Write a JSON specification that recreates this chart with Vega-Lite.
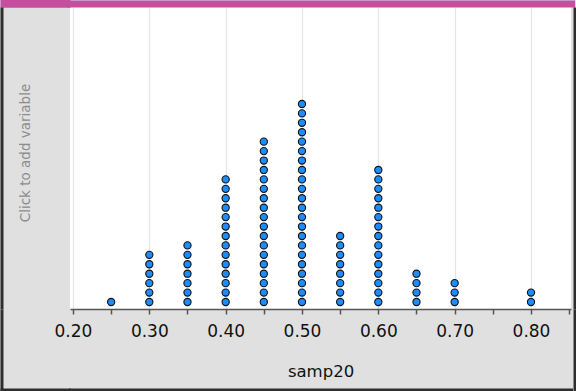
{
  "$schema": "https://vega.github.io/schema/vega-lite/v6.json",
  "width": 501,
  "height": 302,
  "autosize": {"type": "none"},
  "padding": {"left": 70, "top": 7, "right": 5, "bottom": 82},
  "background": "#E0E0E0",
  "config": {
    "view": {"fill": "white", "stroke": null},
    "font": "DejaVu Sans"
  },
  "data": {
    "values": [
      {"samp20": 0.25},
      {"samp20": 0.30},{"samp20": 0.30},{"samp20": 0.30},{"samp20": 0.30},{"samp20": 0.30},{"samp20": 0.30},
      {"samp20": 0.35},{"samp20": 0.35},{"samp20": 0.35},{"samp20": 0.35},{"samp20": 0.35},{"samp20": 0.35},{"samp20": 0.35},
      {"samp20": 0.40},{"samp20": 0.40},{"samp20": 0.40},{"samp20": 0.40},{"samp20": 0.40},{"samp20": 0.40},{"samp20": 0.40},
      {"samp20": 0.40},{"samp20": 0.40},{"samp20": 0.40},{"samp20": 0.40},{"samp20": 0.40},{"samp20": 0.40},{"samp20": 0.40},
      {"samp20": 0.45},{"samp20": 0.45},{"samp20": 0.45},{"samp20": 0.45},{"samp20": 0.45},{"samp20": 0.45},
      {"samp20": 0.45},{"samp20": 0.45},{"samp20": 0.45},{"samp20": 0.45},{"samp20": 0.45},{"samp20": 0.45},
      {"samp20": 0.45},{"samp20": 0.45},{"samp20": 0.45},{"samp20": 0.45},{"samp20": 0.45},{"samp20": 0.45},
      {"samp20": 0.50},{"samp20": 0.50},{"samp20": 0.50},{"samp20": 0.50},{"samp20": 0.50},{"samp20": 0.50},
      {"samp20": 0.50},{"samp20": 0.50},{"samp20": 0.50},{"samp20": 0.50},{"samp20": 0.50},{"samp20": 0.50},
      {"samp20": 0.50},{"samp20": 0.50},{"samp20": 0.50},{"samp20": 0.50},{"samp20": 0.50},{"samp20": 0.50},
      {"samp20": 0.50},{"samp20": 0.50},{"samp20": 0.50},{"samp20": 0.50},
      {"samp20": 0.55},{"samp20": 0.55},{"samp20": 0.55},{"samp20": 0.55},{"samp20": 0.55},{"samp20": 0.55},{"samp20": 0.55},{"samp20": 0.55},
      {"samp20": 0.60},{"samp20": 0.60},{"samp20": 0.60},{"samp20": 0.60},{"samp20": 0.60},
      {"samp20": 0.60},{"samp20": 0.60},{"samp20": 0.60},{"samp20": 0.60},{"samp20": 0.60},
      {"samp20": 0.60},{"samp20": 0.60},{"samp20": 0.60},{"samp20": 0.60},{"samp20": 0.60},
      {"samp20": 0.65},{"samp20": 0.65},{"samp20": 0.65},{"samp20": 0.65},
      {"samp20": 0.70},{"samp20": 0.70},{"samp20": 0.70},
      {"samp20": 0.80},{"samp20": 0.80}
    ]
  },
  "transform": [
    {"window": [{"op": "row_number", "as": "stack"}], "groupby": ["samp20"]}
  ],
  "layer": [
    {
      "mark": {"type": "circle", "size": 52, "fill": "#1E8CFA", "stroke": "#111111", "strokeWidth": 1.1, "opacity": 1},
      "encoding": {
        "x": {
          "field": "samp20",
          "type": "quantitative",
          "scale": {"domain": [0.1961, 0.8524], "nice": false, "zero": false},
          "axis": {
            "orient": "bottom",
            "title": "samp20",
            "titleFont": "DejaVu Sans",
            "titleFontSize": 16.5,
            "titleFontWeight": "normal",
            "titleColor": "#111111",
            "titleBaseline": "alphabetic",
            "titleY": 67,
            "values": [0.2, 0.25, 0.3, 0.35, 0.4, 0.45, 0.5, 0.55, 0.6, 0.65, 0.7, 0.75, 0.8, 0.85],
            "format": ".2f",
            "labelExpr": "round(datum.value*100) % 10 === 0 ? datum.label : ''",
            "labelFont": "DejaVu Sans",
            "labelFontSize": 17,
            "labelColor": "#111111",
            "labelBaseline": "alphabetic",
            "labelPadding": 22,
            "labelFlush": false,
            "labelOverlap": false,
            "tickSize": 5,
            "tickWidth": 1.5,
            "tickColor": "#555555",
            "domainColor": "#555555",
            "domainWidth": 1.5,
            "grid": true,
            "gridColor": "#E4E4E4",
            "gridWidth": 1.2,
            "gridOpacity": {"condition": {"test": "round(datum.value*100) % 10 === 0", "value": 1}, "value": 0}
          }
        },
        "y": {
          "field": "stack",
          "type": "quantitative",
          "scale": {"domain": [0.2577, 32.28], "nice": false, "zero": false},
          "axis": {
            "orient": "left",
            "title": "Click to add variable",
            "titleFont": "DejaVu Sans",
            "titleFontSize": 13.5,
            "titleFontWeight": "normal",
            "titleColor": "#8C8C8C",
            "titleAngle": -90,
            "titleBaseline": "alphabetic",
            "titleAlign": "center",
            "titleX": -40.7,
            "titleY": 145.5,
            "labels": false,
            "domain": false,
            "grid": false,
            "values": [32.27],
            "tickSize": 70,
            "tickWidth": 8,
            "tickColor": "#C44F9F",
            "tickOffset": -3.9,
            "tickRound": false
          }
        }
      }
    },
    {
      "mark": {"type": "point", "opacity": 0},
      "encoding": {
        "x": {
          "field": "samp20",
          "type": "quantitative",
          "axis": {
            "orient": "top",
            "title": null,
            "labels": false,
            "ticks": false,
            "grid": false,
            "domain": true,
            "domainColor": "#C44F9F",
            "domainWidth": 7,
            "domainCap": "square",
            "offset": 3.5
          }
        },
        "y": {"field": "stack", "type": "quantitative", "axis": null}
      }
    },
    {
      "mark": {"type": "point", "opacity": 0},
      "encoding": {
        "x": {
          "field": "samp20",
          "type": "quantitative",
          "axis": {
            "orient": "bottom",
            "title": null,
            "labels": false,
            "grid": false,
            "domain": false,
            "values": [0.1962],
            "tickSize": 82,
            "tickWidth": 3,
            "tickColor": "#2E2E2E",
            "tickOffset": -68.6,
            "tickRound": false
          }
        },
        "y": {
          "field": "stack",
          "type": "quantitative",
          "axis": {
            "orient": "left",
            "title": null,
            "labels": false,
            "ticks": false,
            "grid": false,
            "domain": true,
            "domainColor": "#2E2E2E",
            "domainWidth": 3,
            "offset": 68.5
          }
        }
      }
    },
    {
      "mark": {"type": "point", "opacity": 0},
      "encoding": {
        "x": {
          "field": "samp20",
          "type": "quantitative",
          "axis": {
            "orient": "bottom",
            "title": null,
            "labels": false,
            "ticks": false,
            "grid": false,
            "domain": true,
            "domainColor": "#2E2E2E",
            "domainWidth": 3,
            "domainCap": "square",
            "offset": 80.5
          }
        },
        "y": {
          "field": "stack",
          "type": "quantitative",
          "axis": {
            "orient": "left",
            "title": null,
            "labels": false,
            "grid": false,
            "domain": false,
            "values": [0.2578],
            "tickSize": 70,
            "tickWidth": 3,
            "tickColor": "#2E2E2E",
            "tickOffset": 80.5,
            "tickRound": false
          }
        }
      }
    },
    {
      "mark": {"type": "point", "opacity": 0},
      "encoding": {
        "x": {
          "field": "samp20",
          "type": "quantitative",
          "axis": {
            "orient": "bottom",
            "title": null,
            "labels": false,
            "grid": false,
            "domain": false,
            "values": [0.8523],
            "tickSize": 82,
            "tickWidth": 3,
            "tickColor": "#2E2E2E",
            "tickOffset": 3.6,
            "tickRound": false
          }
        },
        "y": {
          "field": "stack",
          "type": "quantitative",
          "axis": {
            "orient": "right",
            "title": null,
            "labels": false,
            "ticks": false,
            "grid": false,
            "domain": true,
            "domainColor": "#2E2E2E",
            "domainWidth": 3,
            "offset": 3.5
          }
        }
      }
    }
  ],
  "resolve": {"axis": {"x": "independent", "y": "independent"}}
}
